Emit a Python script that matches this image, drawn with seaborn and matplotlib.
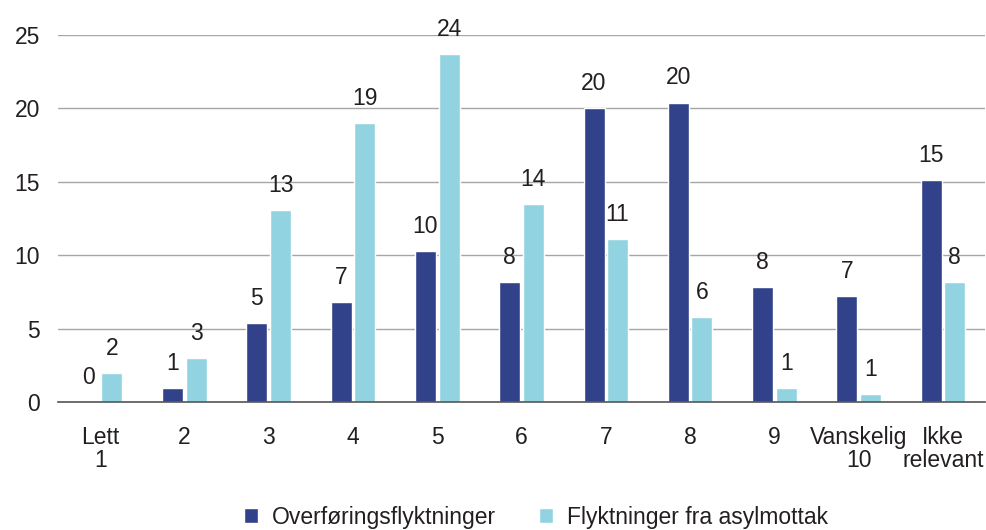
import matplotlib
matplotlib.use('Agg')
import matplotlib.pyplot as plt
import pandas as pd
import seaborn as sns

# Data
categories = ['Lett\n1', '2', '3', '4', '5', '6', '7', '8', '9', 'Vanskelig\n10', 'Ikke\nrelevant']
overforing = [0.0, 0.95, 5.4, 6.8, 10.3, 8.2, 20.0, 20.4, 7.8, 7.2, 15.1]
asylmottak = [2.0, 3.0, 13.1, 19.0, 23.7, 13.5, 11.1, 5.8, 0.95, 0.55, 8.2]
series_names = ['Overføringsflyktninger', 'Flyktninger fra asylmottak']
colors = ['#32428A', '#92D3E1']
y_ticks = [0, 5, 10, 15, 20, 25]

df = pd.DataFrame({
    'Kategori': categories * 2,
    'Verdi': overforing + asylmottak,
    'Gruppe': [series_names[0]] * len(categories) + [series_names[1]] * len(categories),
})

sns.set_style('white')
plt.rcParams['font.family'] = ['Liberation Sans', 'DejaVu Sans']
fs = 16.5

fig = plt.figure(figsize=(9.87, 5.3), dpi=100)
ax = fig.add_axes([0.0588, 0.2415, 0.9392, 0.6925])

sns.barplot(data=df, x='Kategori', y='Verdi', hue='Gruppe', palette=colors,
            width=0.56, gap=0.11, order=categories, hue_order=series_names,
            saturation=1, ax=ax, legend=True)

# Value labels (rounded) above each bar
for container in ax.containers:
    for bar in container:
        h = bar.get_height()
        ax.annotate(f'{round(h):.0f}', (bar.get_x() + bar.get_width() / 2, h),
                    xytext=(0, 13), textcoords='offset points',
                    ha='center', va='baseline', fontsize=fs, color='#231F20',
                    annotation_clip=False)

ax.set_ylim(0, 25)
ax.set_yticks(y_ticks)
ax.set_xlim(-0.5, len(categories) - 0.5)
ax.set_xlabel('')
ax.set_ylabel('')
ax.yaxis.grid(True, color='#A6A6A6', linewidth=1)
ax.set_axisbelow(True)
ax.tick_params(axis='y', length=0, pad=13, labelsize=fs, labelcolor='#231F20')
ax.tick_params(axis='x', length=0, pad=17, labelsize=fs, labelcolor='#231F20')
for lbl in ax.get_xticklabels():
    lbl.set_linespacing(1.0)
for s in ['top', 'right', 'left']:
    ax.spines[s].set_visible(False)
ax.spines['bottom'].set_color('#555555')
ax.spines['bottom'].set_linewidth(1.2)

handles, lbls = ax.get_legend_handles_labels()
ax.legend_.remove()
fig.legend(handles, lbls, loc='center', bbox_to_anchor=(0.543, 0.0245), ncol=2,
           frameon=False, fontsize=fs, handlelength=0.6, handleheight=0.6,
           handletextpad=0.6, columnspacing=1.9, labelcolor='#231F20')

fig.savefig('out.png', dpi=100)
